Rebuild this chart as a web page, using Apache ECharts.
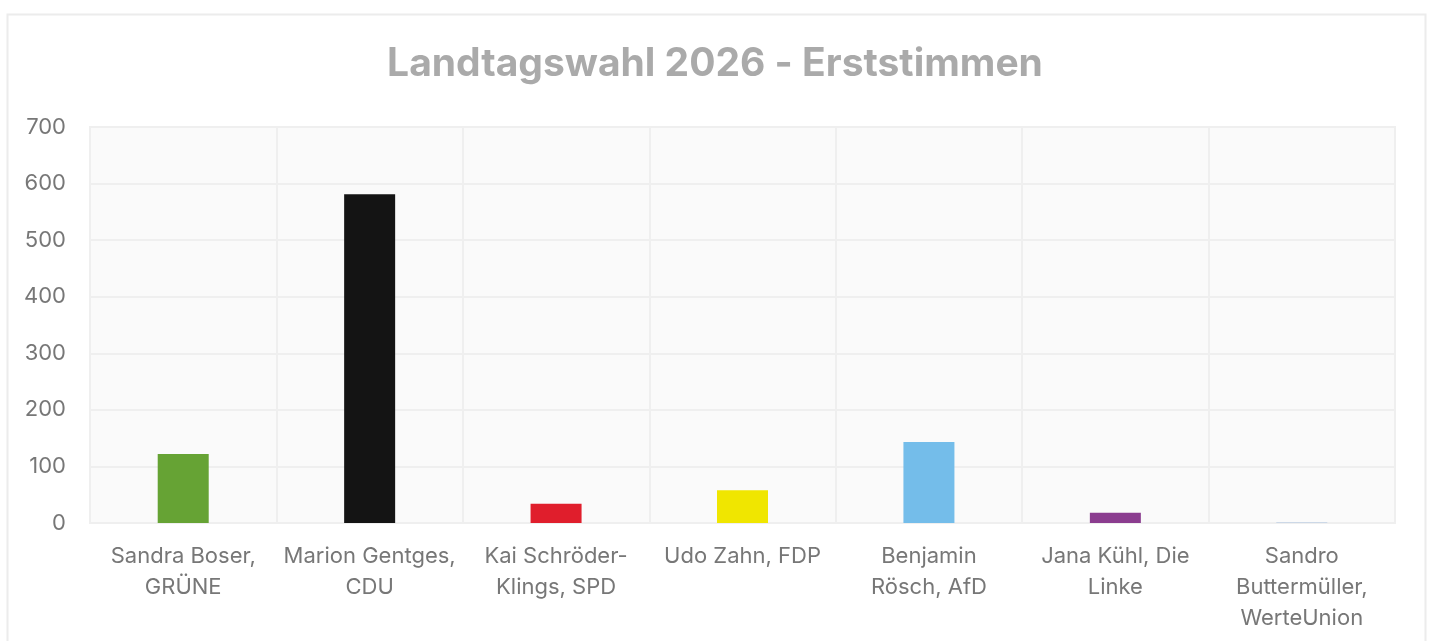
<!DOCTYPE html>
<html>
<head>
<meta charset="utf-8">
<script src="https://cdn.jsdelivr.net/npm/echarts@6/dist/echarts.min.js"></script>
<style>
  html, body { margin: 0; padding: 0; background: #fff; }
  #chart { width: 1430px; height: 641px; }
</style>
</head>
<body>
<div id="chart"></div>
<script>
var candidates = [
  'Sandra Boser,\nGRÜNE',
  'Marion Gentges,\nCDU',
  'Kai Schröder-\nKlings, SPD',
  'Udo Zahn, FDP',
  'Benjamin\nRösch, AfD',
  'Jana Kühl, Die\nLinke',
  'Sandro\nButtermüller,\nWerteUnion'
]
var votes = [122, 581, 34, 58, 143, 18, 1]
var partyColors = ['#66a334', '#141414', '#e01e2c', '#f0e600', '#74bdea', '#8b3d8f', '#a9c1e0']
var yTicks = [0, 100, 200, 300, 400, 500, 600, 700]

var chart = echarts.init(document.getElementById('chart'))

var option = {
  animation: false,
  title: {
    text: 'Landtagswahl 2026 - Erststimmen',
    left: 'center',
    top: 40,
    textStyle: {
      color: '#aaaaaa',
      fontSize: 39,
      fontWeight: 'bold',
      fontFamily: 'Inter'
    }
  },
  graphic: [
    {
      type: 'rect',
      shape: { x: 7.5, y: 14.5, width: 1418, height: 640 },
      style: { fill: 'none', stroke: '#ececec', lineWidth: 2 },
      silent: true
    }
  ],
  grid: {
    left: 90,
    right: 35,
    top: 127,
    bottom: 118,
    show: true,
    backgroundColor: '#fafafa',
    borderColor: '#efefef',
    borderWidth: 2
  },
  xAxis: {
    type: 'category',
    data: candidates,
    axisLine: { show: false },
    axisTick: { show: false },
    splitLine: { show: true, lineStyle: { color: '#efefef', width: 2 } },
    axisLabel: {
      color: '#777777',
      fontSize: 22,
      fontFamily: 'Inter',
      lineHeight: 31,
      margin: 18,
      interval: 0
    }
  },
  yAxis: {
    type: 'value',
    min: 0,
    max: 700,
    interval: 100,
    axisLine: { show: false },
    axisTick: { show: false },
    splitLine: { lineStyle: { color: '#efefef', width: 2 } },
    axisLabel: {
      color: '#777777',
      fontSize: 22,
      fontFamily: 'Inter',
      margin: 24,
      customValues: yTicks
    }
  },
  series: [
    {
      type: 'bar',
      barWidth: 51,
      data: votes.map(function (v, i) {
        return { value: v, itemStyle: { color: partyColors[i] } }
      })
    }
  ]
}

chart.setOption(option)
</script>
</body>
</html>
